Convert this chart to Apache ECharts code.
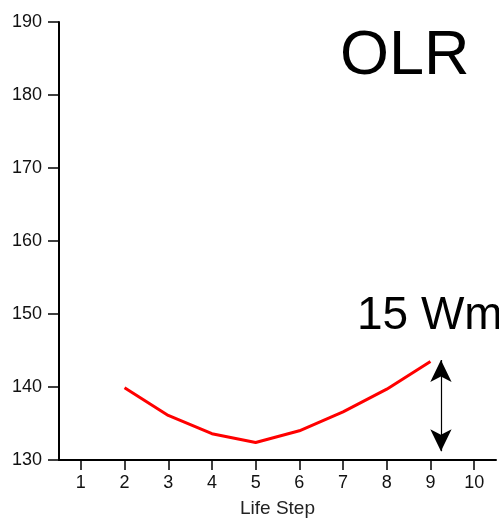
<!DOCTYPE html>
<html>
<head>
<meta charset="utf-8">
<script src="https://cdn.jsdelivr.net/npm/echarts@6/dist/echarts.min.js"></script>
<style>
  html, body { margin: 0; padding: 0; background: #fff; }
  #chart { width: 499px; height: 524px; }
</style>
</head>
<body>
<div id="chart"></div>
<script>
// Outgoing longwave radiation across life steps
const lifeSteps = [2, 3, 4, 5, 6, 7, 8, 9];
const olrValues = [139.9, 136.1, 133.6, 132.4, 134.0, 136.6, 139.7, 143.5];
const xTickValues = [1, 2, 3, 4, 5, 6, 7, 8, 9, 10];
const yTickValues = [130, 140, 150, 160, 170, 180, 190];

// Double-headed arrow marking the OLR range
const rangeArrowStep = 9.24;
const rangeArrowTop = 143.7;
const rangeArrowBottom = 131.2;

const titleText = 'OLR';
const rangeText = '15 Wm\u207B\u00B2';
const xName = 'Life Step';

const fontFamily = '"Liberation Sans", Arial, Helvetica, sans-serif';

const chart = echarts.init(document.getElementById('chart'), null, { renderer: 'canvas' });

chart.setOption({
  animation: false,
  backgroundColor: '#fff',
  grid: { left: 59, top: 22, right: 3, bottom: 64, containLabel: false },
  xAxis: {
    type: 'value',
    min: 0.5,
    max: 10.5,
    name: xName,
    nameLocation: 'middle',
    nameGap: 39,
    nameTextStyle: { color: '#222', fontSize: 19, fontFamily: fontFamily },
    axisLine: { show: true, lineStyle: { color: '#000', width: 2 } },
    axisTick: {
      show: true, inside: false, length: 10, customValues: xTickValues,
      lineStyle: { color: '#000', width: 1.5 }
    },
    axisLabel: {
      customValues: xTickValues, margin: 14,
      color: '#111', fontSize: 18, fontFamily: fontFamily
    },
    splitLine: { show: false }
  },
  yAxis: {
    type: 'value',
    min: 130,
    max: 190,
    interval: 10,
    axisLine: { show: true, lineStyle: { color: '#000', width: 2 } },
    axisTick: {
      show: true, inside: false, length: 11, customValues: yTickValues,
      lineStyle: { color: '#000', width: 1.5 }
    },
    axisLabel: {
      customValues: yTickValues, margin: 17,
      color: '#111', fontSize: 18, fontFamily: fontFamily
    },
    splitLine: { show: false }
  },
  series: [
    {
      type: 'line',
      data: lifeSteps.map((s, i) => [s, olrValues[i]]),
      showSymbol: false,
      symbol: 'none',
      lineStyle: { color: '#ff0000', width: 3 },
      markLine: {
        silent: true,
        symbol: ['arrow', 'arrow'],
        symbolSize: [16, 22],
        label: { show: false },
        lineStyle: { color: '#000', width: 1.2, type: 'solid' },
        data: [[
          { coord: [rangeArrowStep, rangeArrowTop] },
          { coord: [rangeArrowStep, rangeArrowBottom] }
        ]]
      }
    }
  ],
  graphic: [
    {
      type: 'text', left: 340, top: 25,
      style: { text: titleText, fill: '#000', fontSize: 63, fontFamily: fontFamily }
    },
    {
      type: 'text', left: 357, top: 293,
      style: { text: rangeText, fill: '#000', fontSize: 46, fontFamily: fontFamily }
    }
  ]
});
</script>
</body>
</html>
